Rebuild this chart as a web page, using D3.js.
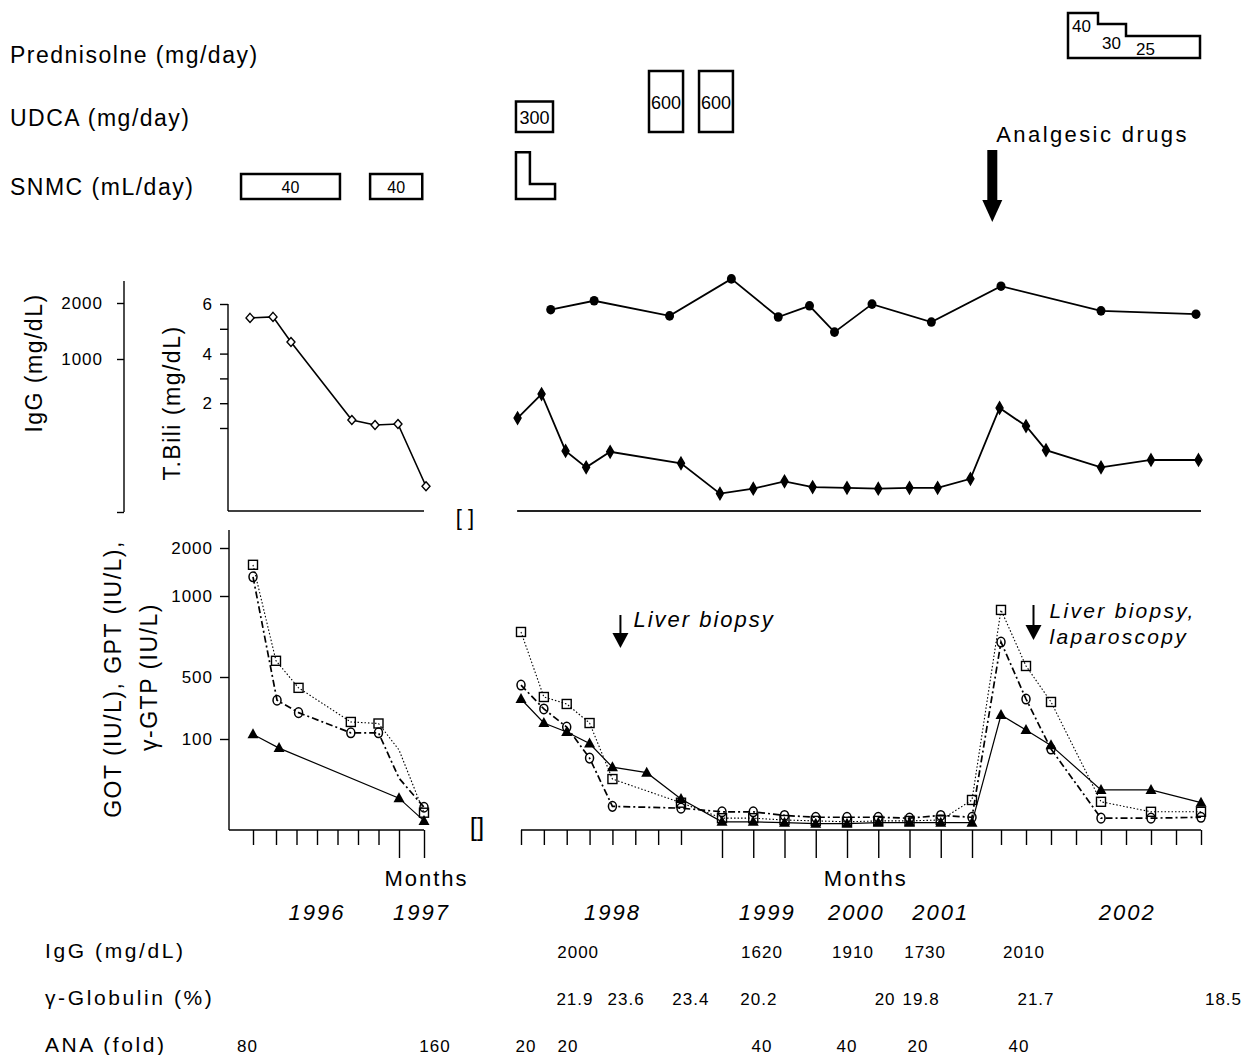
<!DOCTYPE html>
<html>
<head>
<meta charset="utf-8">
<script src="https://cdn.jsdelivr.net/npm/d3@7"></script>
<style>
  body { margin: 0; background: #fff; }
  svg text { font-family: "Liberation Sans", Arial, Helvetica, sans-serif; fill: #000; }
</style>
</head>
<body>
<svg id="chart" width="1244" height="1055"></svg>
<script>
// ---------- data ----------
// x values are positions on the month tick axes (left panel: 1996-97, right panel: 1998-2002)
const leftTicks = d3.range(0, 9)
const rightTicks = d3.range(0, 26)
const leftLongTicks = [7, 8]
const rightLongTicks = d3.range(8, 17)

const yearLabels = [["L", 3.0, "1996"], ["L", 7.9, "1997"], ["R", 4.0, "1998"], ["R", 9.45, "1999"],
                    ["R", 12.3, "2000"], ["R", 15.0, "2001"], ["R", 22.05, "2002"]]

// treatments
const prednisoloneSteps = [{start: 19.68, end: 20.88, dose: 40}, {start: 20.88, end: 22.0, dose: 30}, {start: 22.0, end: 24.96, dose: 25}]
const udcaBlocks = [{panel: "R", start: -0.22, end: 1.4, dose: 300}, {panel: "R", start: 5.6, end: 7.05, dose: 600},
                    {panel: "R", start: 7.44, end: 8.35, dose: 600}]
const snmcBlocks = [{panel: "L", start: -0.52, end: 4.12, dose: 40}, {panel: "L", start: 5.59, end: 7.93, dose: 40}]
const snmcSteps = [{start: -0.22, end: 0.39, dose: 75}, {start: 0.39, end: 1.49, dose: 24}] // unlabelled, right panel
const analgesicAt = 16.7
const biopsyAt = [4.35, 18.3]

// T.Bili (mg/dL)
const biliLeftX = [-0.13, 0.87, 1.73, 4.7, 5.83, 6.95, 8.08]
const biliLeft = [5.44, 5.48, 4.47, 1.32, 1.12, 1.16, 0.29]
const biliRightX = [-0.15, 0.9, 1.95, 2.85, 3.9, 7, 7.95, 9, 10, 10.9, 12, 13, 14, 14.9, 15.95, 16.95, 18, 18.8, 21, 23, 24.9]
const biliRight = [1.40, 2.37, 0.72, 0.52, 0.71, 0.57, 0.20, 0.26, 0.35, 0.28, 0.27, 0.26, 0.27, 0.27, 0.38, 1.81, 1.08, 0.73, 0.52, 0.61, 0.61]

// IgG (mg/dL)
const igGRightX = [1.3, 3.2, 6.5, 8.3, 9.8, 10.8, 11.6, 12.8, 14.7, 17, 21, 24.8]
const igGRight = [1880, 2040, 1770, 2430, 1750, 1950, 1480, 1980, 1660, 2300, 1860, 1800]

// GPT (squares), GOT (circles), gamma-GTP (triangles), IU/L
const gptLeftX = [0, 1, 2.1, 4.65, 6, 7, 8]
const gptLeft = [1650, 600, 430, 210, 200, 88, 19]
const gotLeftX = [0, 1.05, 2.1, 4.65, 6, 7, 8]
const gotLeft = [1400, 350, 270, 140, 140, 57, 25]
const leftUnmarked = [5] // points joined by the line but drawn without a symbol
const ggtLeftX = [0, 1.15, 7, 8]
const ggtLeft = [130, 90, 35, 10]

const labRightX = [0, 1, 2, 3, 4, 7, 8, 9, 10, 11, 12, 13, 14, 15, 16, 17, 18, 19, 21, 23, 25]
const gptRight = [778, 371, 326, 203, 56, 30, 13, 13, 11, 10, 9, 10, 10, 11, 33, 914, 568, 339, 31, 20, 20]
const gotRight = [448, 294, 177, 79, 26, 24, 20, 20, 16, 14, 14, 14, 13, 16, 14, 716, 358, 89, 13, 13, 14]
const ggtRightX = [0, 1, 2, 3, 4, 5.5, 7, 8, 9, 10, 11, 12, 13, 14, 15, 16, 17, 18, 19, 21, 23, 25]
const ggtRight = [358, 203, 145, 95, 69, 63, 34, 9, 9, 8, 7, 7, 8, 8, 8, 8, 255, 158, 93, 44, 44, 30]

// table under the chart: [panel, x, text]
const tableIgG = [["R", 2.5, "2000"], ["R", 9.28, "1620"], ["R", 12.19, "1910"], ["R", 14.5, "1730"], ["R", 17.92, "2010"]]
const tableGlobulin = [["R", 2.36, "21.9"], ["R", 4.6, "23.6"], ["R", 7.24, "23.4"], ["R", 9.18, "20.2"], ["R", 13.22, "20"],
                       ["R", 14.37, "19.8"], ["R", 18.4, "21.7"], ["R", 25.9, "18.5"]]
const tableANA = [["L", -0.24, "80"], ["L", 8.44, "160"], ["R", 0.22, "20"], ["R", 2.06, "20"], ["R", 9.28, "40"],
                  ["R", 12.0, "40"], ["R", 14.27, "20"], ["R", 17.72, "40"]]

// ---------- scales ----------
const svg = d3.select("#chart")
const xL = d3.scaleLinear().domain([0, 1, 7, 8]).range([253, 276, 399, 424])
const xR = d3.scaleLinear().domain([0, 7, 8, 16, 17, 25]).range([521, 681, 722, 972, 1001, 1201])
const xOf = p => p === "L" ? xL : xR
const yIgG = d3.scaleLinear().domain([0, 1000, 2000]).range([512, 359, 303])
const yBili = d3.scaleLinear().domain([0, 1, 6]).range([510, 428, 304])
const yLab = d3.scaleLinear().domain([0, 100, 500, 1000, 2000]).range([830, 739, 677, 596, 548])

function txt(x, y, s, size, spacing) {
  return svg.append("text").attr("x", x).attr("y", y).attr("font-size", size)
    .style("letter-spacing", (spacing || 0) + "px").text(s)
}

// ---------- treatment rows ----------
txt(10, 63, "Prednisolne (mg/day)", 23, 1.5)
txt(10, 126, "UDCA (mg/day)", 23, 1.5)
txt(10, 195, "SNMC (mL/day)", 23, 1.5)

const boxStroke = 2.5
// prednisolone step outline
const hPred = d3.scaleLinear().domain([25, 30, 40]).range([22, 34, 45])
const predBase = 58
let pd = `M${xR(prednisoloneSteps[0].start)},${predBase}`
prednisoloneSteps.forEach(s => { pd += `V${predBase - hPred(s.dose)}H${xR(s.end)}` })
pd += `V${predBase}Z`
svg.append("path").attr("d", pd).attr("fill", "none").attr("stroke", "#000").attr("stroke-width", boxStroke)
const predLabelPos = [[4, 19], [4, 25], [10, 19]]
prednisoloneSteps.forEach((s, i) => {
  txt(xR(s.start) + predLabelPos[i][0], predBase - hPred(s.dose) + predLabelPos[i][1], s.dose, 17)
})

// UDCA blocks
const hUdca = d3.scaleLinear().domain([0, 600]).range([0, 61])
const udcaBase = 132
udcaBlocks.forEach(b => {
  const x0 = xOf(b.panel)(b.start), x1 = xOf(b.panel)(b.end), h = hUdca(b.dose)
  svg.append("rect").attr("x", x0).attr("y", udcaBase - h).attr("width", x1 - x0).attr("height", h)
    .attr("fill", "none").attr("stroke", "#000").attr("stroke-width", boxStroke)
  txt((x0 + x1) / 2, udcaBase - h / 2 + 7, b.dose, 18).attr("text-anchor", "middle")
})

// SNMC blocks
const hSnmc = d3.scaleLinear().domain([0, 40]).range([0, 25])
const snmcBase = 199
snmcBlocks.forEach(b => {
  const x0 = xOf(b.panel)(b.start), x1 = xOf(b.panel)(b.end), h = hSnmc(b.dose)
  svg.append("rect").attr("x", x0).attr("y", snmcBase - h).attr("width", x1 - x0).attr("height", h)
    .attr("fill", "none").attr("stroke", "#000").attr("stroke-width", boxStroke)
  txt((x0 + x1) / 2, snmcBase - h / 2 + 6, b.dose, 16).attr("text-anchor", "middle")
})
let sd = `M${xR(snmcSteps[0].start)},${snmcBase}`
snmcSteps.forEach(s => { sd += `V${snmcBase - hSnmc(s.dose)}H${xR(s.end)}` })
sd += `V${snmcBase}Z`
svg.append("path").attr("d", sd).attr("fill", "none").attr("stroke", "#000").attr("stroke-width", boxStroke)

// analgesic drugs arrow
const ax = xR(analgesicAt)
txt(ax + 4, 142, "Analgesic drugs", 22, 2.4)
svg.append("rect").attr("x", ax - 5).attr("y", 150).attr("width", 10).attr("height", 52).attr("fill", "#000")
svg.append("path").attr("d", `M${ax - 10},200L${ax + 10},200L${ax},222Z`).attr("fill", "#000")

// ---------- upper panel: IgG and T.Bili ----------
const axisFont = g => g.attr("font-family", "'Liberation Sans', Arial, sans-serif").attr("font-size", 17)
  .call(g => g.selectAll("text").style("letter-spacing", "1px"))
  .call(g => g.selectAll(".tick line").attr("stroke-width", 1.4))

const gIgG = svg.append("g").attr("transform", "translate(124,0)")
  .call(d3.axisLeft(yIgG).tickValues([0, 1000, 2000]).tickFormat(d => d ? String(d) : "").tickSize(7).tickPadding(14).tickSizeOuter(0))
  .call(axisFont)
gIgG.select(".domain").attr("d", "M0,281V512").attr("stroke-width", 1.4)

const gBili = svg.append("g").attr("transform", "translate(228,0)")
  .call(d3.axisLeft(yBili).tickValues([1, 2, 3, 4, 5, 6]).tickFormat(d => d % 2 === 0 ? String(d) : "").tickSize(8).tickPadding(7).tickSizeOuter(0))
  .call(axisFont)
gBili.select(".domain").attr("d", "M0,304V511").attr("stroke-width", 1.4)

svg.append("text").attr("transform", "translate(42,363) rotate(-90)").attr("text-anchor", "middle")
  .attr("font-size", 23).style("letter-spacing", "1.5px").text("IgG (mg/dL)")
svg.append("text").attr("transform", "translate(180,403) rotate(-90)").attr("text-anchor", "middle")
  .attr("font-size", 23).style("letter-spacing", "1.5px").text("T.Bili (mg/dL)")

svg.append("line").attr("x1", 228).attr("x2", xL(8)).attr("y1", 511).attr("y2", 511).attr("stroke", "#000").attr("stroke-width", 1.4)
svg.append("line").attr("x1", xR(-0.17)).attr("x2", xR(25)).attr("y1", 511).attr("y2", 511).attr("stroke", "#222").attr("stroke-width", 2)
txt(465, 525, "[ ]", 22).attr("text-anchor", "middle")

const line = (x, y) => d3.line().x(d => x(d[0])).y(d => y(d[1]))
const zip = (a, b) => a.map((v, i) => [v, b[i]])

function plainLine(x, y, pts, w, dash) {
  svg.append("path").datum(pts).attr("d", line(x, y)).attr("fill", "none").attr("stroke", "#000")
    .attr("stroke-width", w).attr("stroke-dasharray", dash || null)
}
function diamonds(x, y, pts, w, h, filled) {
  svg.append("g").selectAll("path").data(pts).join("path")
    .attr("d", d => { const cx = x(d[0]), cy = y(d[1]); return `M${cx},${cy - h}L${cx + w},${cy}L${cx},${cy + h}L${cx - w},${cy}Z` })
    .attr("fill", filled ? "#000" : "#fff").attr("stroke", "#000").attr("stroke-width", 1.4)
}

const biliL = zip(biliLeftX, biliLeft), biliR = zip(biliRightX, biliRight), igR = zip(igGRightX, igGRight)
plainLine(xL, yBili, biliL, 1.6)
diamonds(xL, yBili, biliL, 4, 4.5, false)
plainLine(xR, yBili, biliR, 1.8)
diamonds(xR, yBili, biliR, 3.5, 6, true)
plainLine(xR, yIgG, igR, 1.8)
svg.append("g").selectAll("ellipse").data(igR).join("ellipse")
  .attr("cx", d => xR(d[0])).attr("cy", d => yIgG(d[1])).attr("rx", 4.5).attr("ry", 4.8).attr("fill", "#000")

// ---------- lower panel: GOT / GPT / gamma-GTP ----------
const gLab = svg.append("g").attr("transform", "translate(229,0)")
  .call(d3.axisLeft(yLab).tickValues([100, 500, 1000, 2000]).tickFormat(d3.format("d")).tickSize(9).tickPadding(7).tickSizeOuter(0))
  .call(axisFont)
gLab.select(".domain").attr("d", "M0,530V830").attr("stroke-width", 1.4)

svg.append("text").attr("transform", "translate(121,679) rotate(-90)").attr("text-anchor", "middle")
  .attr("font-size", 23).style("letter-spacing", "1.5px").text("GOT (IU/L), GPT (IU/L),")
svg.append("text").attr("transform", "translate(157,677) rotate(-90)").attr("text-anchor", "middle")
  .attr("font-size", 23).style("letter-spacing", "1.5px").text("γ-GTP (IU/L)")

function timeAxis(x, ticks, longTicks, from, to) {
  const g = svg.append("g").attr("transform", "translate(0,830)")
    .call(d3.axisBottom(x).tickValues(ticks).tickFormat("").tickSize(15).tickSizeOuter(0))
  g.select(".domain").attr("d", `M${from},0H${to}`).attr("stroke-width", 1.5)
  g.selectAll(".tick line").attr("stroke-width", 1.4).filter(d => longTicks.includes(d)).attr("y2", 28)
}
timeAxis(xL, leftTicks, leftLongTicks, 229, xL(8))
timeAxis(xR, rightTicks, rightLongTicks, xR(0), xR(25))
txt(477, 836, "[]", 26).attr("text-anchor", "middle")

const series = [
  {x: xL, pts: zip(gptLeftX, gptLeft), kind: "sq", skip: leftUnmarked}, {x: xR, pts: zip(labRightX, gptRight), kind: "sq"},
  {x: xL, pts: zip(gotLeftX, gotLeft), kind: "ci", skip: leftUnmarked}, {x: xR, pts: zip(labRightX, gotRight), kind: "ci"},
  {x: xL, pts: zip(ggtLeftX, ggtLeft), kind: "tr"}, {x: xR, pts: zip(ggtRightX, ggtRight), kind: "tr"}
]
const lineStyle = {sq: [1.1, "1.5,2"], ci: [1.7, "7,3,2,3"], tr: [1.2, null]}
series.forEach(s => plainLine(s.x, yLab, s.pts, lineStyle[s.kind][0], lineStyle[s.kind][1]))
series.forEach(s => {
  const g = svg.append("g")
  const pts = s.pts.filter((d, i) => !(s.skip || []).includes(i))
  if (s.kind === "sq") {
    g.selectAll("rect").data(pts).join("rect")
      .attr("x", d => s.x(d[0]) - 4.5).attr("y", d => yLab(d[1]) - 4.5).attr("width", 9).attr("height", 9)
      .attr("fill", "none").attr("stroke", "#000").attr("stroke-width", 1.4)
  } else if (s.kind === "ci") {
    g.selectAll("ellipse").data(pts).join("ellipse")
      .attr("cx", d => s.x(d[0])).attr("cy", d => yLab(d[1])).attr("rx", 4).attr("ry", 4.8)
      .attr("fill", "none").attr("stroke", "#000").attr("stroke-width", 1.5)
  } else {
    g.selectAll("path").data(pts).join("path")
      .attr("d", d => { const cx = s.x(d[0]), cy = yLab(d[1]); return `M${cx},${cy - 6}L${cx + 5.5},${cy + 4}L${cx - 5.5},${cy + 4}Z` })
      .attr("fill", "#000")
  }
})

// biopsy arrows
function biopsyArrow(at, top, bottom) {
  const bx = xR(at)
  svg.append("line").attr("x1", bx).attr("x2", bx).attr("y1", top).attr("y2", bottom - 14).attr("stroke", "#000").attr("stroke-width", 2)
  svg.append("path").attr("d", `M${bx - 8},${bottom - 15}L${bx + 8},${bottom - 15}L${bx},${bottom}Z`).attr("fill", "#000")
  return bx
}
const b1 = biopsyArrow(biopsyAt[0], 615, 648)
txt(b1 + 13, 627, "Liver biopsy", 22, 2).attr("font-style", "italic")
const b2 = biopsyArrow(biopsyAt[1], 605, 640)
txt(b2 + 16, 618, "Liver biopsy,", 21, 2.3).attr("font-style", "italic")
txt(b2 + 16, 644, "laparoscopy", 21, 2.3).attr("font-style", "italic")

// axis captions
txt(xL(8.1), 886, "Months", 22, 2).attr("text-anchor", "middle")
txt(xR(12.6), 886, "Months", 22, 2).attr("text-anchor", "middle")
yearLabels.forEach(([p, v, s]) => txt(xOf(p)(v), 920, s, 22, 2).attr("text-anchor", "middle").attr("font-style", "italic"))

// ---------- table ----------
const tableRows = [["IgG (mg/dL)", tableIgG, 958], ["γ-Globulin (%)", tableGlobulin, 1005], ["ANA (fold)", tableANA, 1052]]
tableRows.forEach(([name, cells, y]) => {
  txt(45, y, name, 21, 2.6)
  cells.forEach(([p, v, s]) => txt(xOf(p)(v), y, s, 17, 1).attr("text-anchor", "middle"))
})
</script>
</body>
</html>
